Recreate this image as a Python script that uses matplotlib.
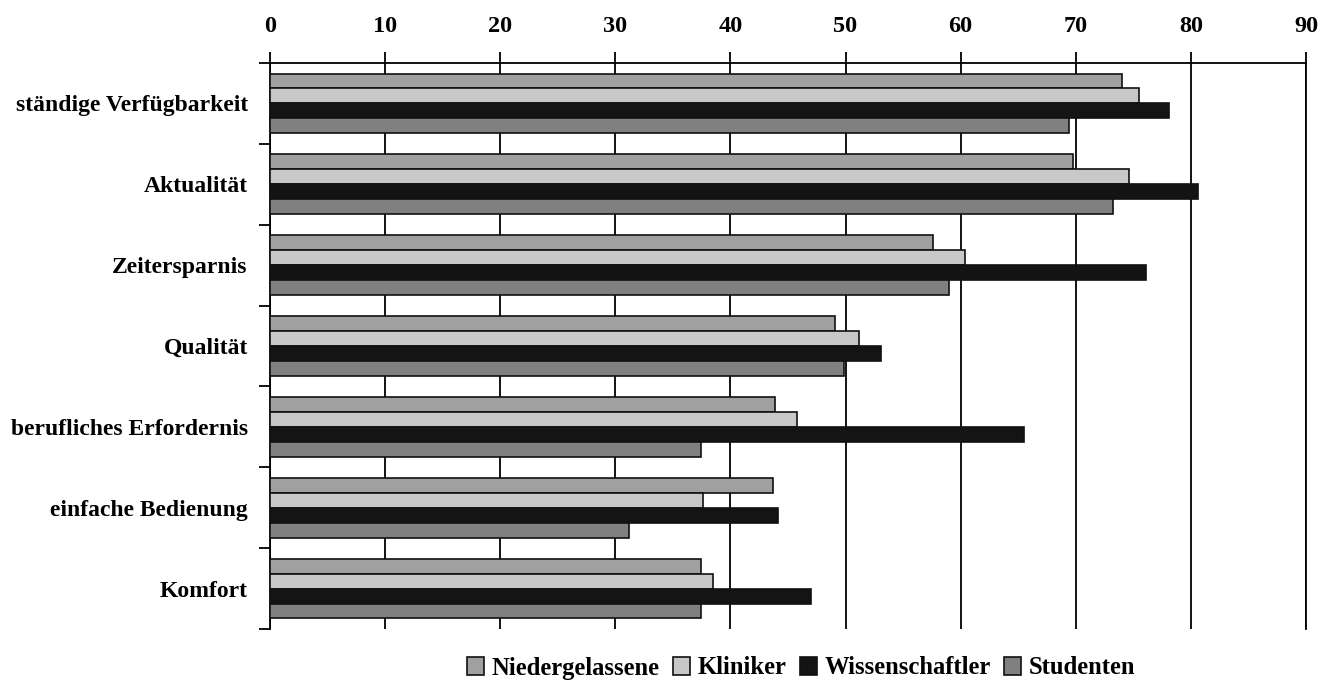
import matplotlib
matplotlib.use("Agg")
import matplotlib.pyplot as plt
import numpy as np

categories = ["ständige Verfügbarkeit", "Aktualität", "Zeitersparnis", "Qualität",
              "berufliches Erfordernis", "einfache Bedienung", "Komfort"]
series_names = ["Niedergelassene", "Kliniker", "Wissenschaftler", "Studenten"]
niedergelassene = [74.0, 69.8, 57.6, 49.1, 43.9, 43.7, 37.4]
kliniker = [75.5, 74.6, 60.4, 51.2, 45.8, 37.6, 38.5]
wissenschaftler = [78.1, 80.6, 76.1, 53.1, 65.5, 44.1, 47.0]
studenten = [69.4, 73.2, 59.0, 49.9, 37.4, 31.2, 37.4]
x_ticks = [0, 10, 20, 30, 40, 50, 60, 70, 80, 90]

colors = ["#a0a0a0", "#c8c8c8", "#141414", "#808080"]

plt.rcParams['font.family'] = ['Liberation Serif', 'DejaVu Serif']
plt.rcParams['font.weight'] = 'bold'

fig = plt.figure(figsize=(13.38, 6.86), dpi=100)
ax = fig.add_axes([270 / 1338, 1 - 629 / 686, (1306 - 270) / 1338, (629 - 63) / 686])

data = [niedergelassene, kliniker, wissenschaftler, studenten]
h = 0.185
y = np.arange(len(categories))
for k, (vals, name, c) in enumerate(zip(data, series_names, colors)):
    ax.barh(y + (k - 1.5) * h, vals, height=h, color=c, edgecolor="#111111",
            linewidth=1.2, label=name, zorder=3)

ax.set_xlim(0, 90)
ax.set_ylim(len(categories) - 0.5, -0.5)
ax.set_xticks(x_ticks)
ax.xaxis.tick_top()
ax.tick_params(axis='x', direction='out', length=8, width=1.3, color='black',
               labelsize=17.5, pad=11)
ax.grid(axis='x', color='black', linewidth=1.3, zorder=0)
ax.set_axisbelow(True)

ax.set_yticks(y)
ax.set_yticklabels(categories)
ax.set_yticks(np.arange(len(categories) + 1) - 0.5, minor=True)
ax.tick_params(axis='y', which='major', length=0, labelsize=17, pad=16)
ax.tick_params(axis='y', which='minor', direction='out', length=8, width=1.3)

ax.spines['bottom'].set_visible(False)
for s in ['top', 'left', 'right']:
    ax.spines[s].set_linewidth(1.3)

leg = fig.legend(loc='center', bbox_to_anchor=(801 / 1338, 1 - 668 / 686), ncol=4,
                 frameon=False, fontsize=17.7, handlelength=0.7, handleheight=0.7,
                 handletextpad=0.3, columnspacing=0.55)

fig.savefig("out.png", dpi=100)
